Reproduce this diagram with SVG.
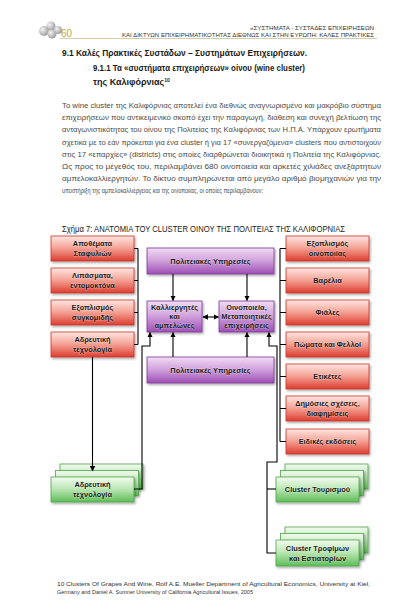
<svg xmlns="http://www.w3.org/2000/svg" width="420" height="611" viewBox="0 0 420 611">
<defs>
<linearGradient id="gRed" x1="0" y1="0" x2="0" y2="1"><stop offset="0" stop-color="#fde6e1"/><stop offset="0.45" stop-color="#f5a79a"/><stop offset="1" stop-color="#dc3e30"/></linearGradient>
<linearGradient id="gPur" x1="0" y1="0" x2="0" y2="1"><stop offset="0" stop-color="#f1dbf5"/><stop offset="0.45" stop-color="#d3a6de"/><stop offset="1" stop-color="#9d4fb5"/></linearGradient>
<linearGradient id="gGrn" x1="0" y1="0" x2="0" y2="1"><stop offset="0" stop-color="#f2fbef"/><stop offset="0.45" stop-color="#bfe8b8"/><stop offset="1" stop-color="#5dbd57"/></linearGradient>
<radialGradient id="gBall" cx="0.35" cy="0.35" r="0.7"><stop offset="0" stop-color="#f4f4f4"/><stop offset="1" stop-color="#9a9a9a"/></radialGradient>
<filter id="sh" x="-10%" y="-10%" width="125%" height="140%"><feDropShadow dx="1.2" dy="1.5" stdDeviation="0.8" flood-color="#000" flood-opacity="0.35"/></filter>
<marker id="ar" viewBox="0 0 10 10" refX="9" refY="5" markerWidth="5" markerHeight="5" orient="auto-start-reverse"><path d="M0,0 L10,5 L0,10 z" fill="#000"/></marker>
<style>
.r{fill:url(#gRed);stroke:#c8392c;stroke-width:0.8;filter:url(#sh)}
.p{fill:url(#gPur);stroke:#7d3b96;stroke-width:0.8;filter:url(#sh)}
.g{fill:url(#gGrn);stroke:#52a64c;stroke-width:0.8;filter:url(#sh)}
.bt{font-family:"Liberation Sans",Arial,sans-serif;font-weight:bold;font-size:7.4px;fill:#1c1c1c;text-anchor:middle;paint-order:stroke;stroke:#ffffff;stroke-opacity:0.35;stroke-width:1px}
.ln{fill:none;stroke:#000;stroke-width:1.1}
.ar{fill:none;stroke:#000;stroke-width:1.1;marker-end:url(#ar)}
.body{font-family:"Liberation Sans",Arial,sans-serif;font-size:8px;fill:#4a4a4a}
.hd{font-family:"Liberation Sans",Arial,sans-serif;font-weight:bold;font-size:9px;fill:#1a1a1a}
.top{font-family:"Liberation Sans",Arial,sans-serif;font-size:5.6px;fill:#333;text-anchor:end}
.fn{font-family:"Liberation Sans",Arial,sans-serif;font-size:5.4px;fill:#333}
</style>
</defs>
<rect width="420" height="611" fill="#fff"/>

<g id="header">
<circle cx="44" cy="31" r="5" fill="url(#gBall)"/>
<circle cx="51" cy="26" r="4.5" fill="url(#gBall)"/>
<circle cx="52" cy="34" r="4.5" fill="url(#gBall)"/>
<circle cx="58" cy="30" r="4" fill="url(#gBall)"/>
<text x="61" y="37" font-family="Liberation Sans,Arial,sans-serif" font-size="10" fill="#c9a43c">60</text>
<line x1="60" y1="38.5" x2="377" y2="38.5" stroke="#bcaa70" stroke-width="0.6"/>
<text class="top" x="374" y="30" textLength="124" lengthAdjust="spacingAndGlyphs">«ΣΥΣΤΗΜΑΤΑ - ΣΥΣΤΑΔΕΣ ΕΠΙΧΕΙΡΗΣΕΩΝ</text>
<text class="top" x="374" y="36.5" textLength="252" lengthAdjust="spacingAndGlyphs">ΚΑΙ ΔΙΚΤΥΩΝ ΕΠΙΧΕΙΡΗΜΑΤΙΚΟΤΗΤΑΣ ΔΙΕΘΝΩΣ ΚΑΙ ΣΤΗΝ ΕΥΡΩΠΗ: ΚΑΛΕΣ ΠΡΑΚΤΙΚΕΣ</text>
</g>

<g id="headings">
<text class="hd" x="62" y="56" textLength="245" lengthAdjust="spacingAndGlyphs">9.1 Καλές Πρακτικές Συστάδων – Συστημάτων Επιχειρήσεων.</text>
<text class="hd" x="93" y="71" textLength="212" lengthAdjust="spacingAndGlyphs">9.1.1 Τα «συστήματα επιχειρήσεων» οίνου (wine cluster)</text>
<text class="hd" x="93" y="85">της Καλιφόρνιας<tspan font-size="5" dy="-3.5">10</tspan></text>
</g>

<g id="paragraph">
<text class="body" x="62" y="108" textLength="319" lengthAdjust="spacingAndGlyphs">Το wine cluster της Καλιφόρνιας αποτελεί ένα διεθνώς αναγνωρισμένο και μακρόβιο σύστημα</text>
<text class="body" x="62" y="120.2" textLength="319" lengthAdjust="spacingAndGlyphs">επιχειρήσεων που αντικειμενικό σκοπό έχει την παραγωγή, διάθεση και συνεχή βελτίωση της</text>
<text class="body" x="62" y="132.4" textLength="319" lengthAdjust="spacingAndGlyphs">ανταγωνιστικότητας του οίνου της Πολιτείας της Καλιφόρνιας των Η.Π.Α. Υπάρχουν ερωτήματα</text>
<text class="body" x="62" y="144.6" textLength="319" lengthAdjust="spacingAndGlyphs">σχετικά με το εάν πρόκειται για ένα cluster ή για 17 «συνεργαζόμενα» clusters που αντιστοιχούν</text>
<text class="body" x="62" y="156.8" textLength="319" lengthAdjust="spacingAndGlyphs">στις 17 «επαρχίες» (districts) στις οποίες διαρθρώνεται διοικητικά η Πολιτεία της Καλιφόρνιας.</text>
<text class="body" x="62" y="169" textLength="319" lengthAdjust="spacingAndGlyphs">Ως προς το μέγεθός του, περιλαμβάνει 680 οινοποιεία και αρκετές χιλιάδες ανεξάρτητων</text>
<text class="body" x="62" y="181.2" textLength="319" lengthAdjust="spacingAndGlyphs">αμπελοκαλλιεργητών.  Το δίκτυο συμπληρώνεται από μεγάλο αριθμό βιομηχανιών για την</text>
<text class="body" x="62" y="193.4" textLength="201" lengthAdjust="spacingAndGlyphs">υποστήριξη της αμπελοκαλλιέργειας και της οινοποιίας, οι οποίες περιλαμβάνουν:</text>
</g>

<text id="fig-title" x="62" y="232" font-family="Liberation Sans,Arial,sans-serif" font-size="8.6" fill="#1a1a1a" textLength="283" lengthAdjust="spacingAndGlyphs">Σχήμα 7: ΑΝΑΤΟΜΙΑ ΤΟΥ CLUSTER ΟΙΝΟΥ ΤΗΣ ΠΟΛΙΤΕΙΑΣ ΤΗΣ ΚΑΛΙΦΟΡΝΙΑΣ</text>

<!-- left red boxes -->
<g id="n-apothemata"><rect class="r" x="51" y="236" width="83" height="25"/><text class="bt" x="92.5" y="246">Αποθέματα</text><text class="bt" x="92.5" y="256">Σταφυλιών</text></g>
<g id="n-lipasmata"><rect class="r" x="51" y="268" width="83" height="25"/><text class="bt" x="92.5" y="278">Λιπάσματα,</text><text class="bt" x="92.5" y="288">εντομοκτόνα</text></g>
<g id="n-exopl-sygk"><rect class="r" x="51" y="300" width="83" height="25"/><text class="bt" x="92.5" y="310">Εξοπλισμός</text><text class="bt" x="92.5" y="320">συγκομιδής</text></g>
<g id="n-adreft-red"><rect class="r" x="51" y="332" width="83" height="25"/><text class="bt" x="92.5" y="342">Αδρευτική</text><text class="bt" x="92.5" y="352">τεχνολογία</text></g>

<!-- purple boxes -->
<g id="n-polit-top"><rect class="p" x="147" y="248" width="127" height="26"/><text class="bt" x="210.5" y="263.5">Πολιτειακές Υπηρεσίες</text></g>
<g id="n-kallierg"><rect class="p" x="147" y="301" width="55" height="31"/><text class="bt" x="174.5" y="310">Καλλιεργητές</text><text class="bt" x="174.5" y="319">και</text><text class="bt" x="174.5" y="328">αμπελώνες</text></g>
<g id="n-oinopoieia"><rect class="p" x="219" y="301" width="55" height="31"/><text class="bt" x="246.5" y="310">Οινοποιεία,</text><text class="bt" x="246.5" y="319">Μεταποιητικές</text><text class="bt" x="246.5" y="328">επιχειρήσεις</text></g>
<g id="n-polit-bot"><rect class="p" x="147" y="357" width="127" height="26"/><text class="bt" x="210.5" y="372.5">Πολιτειακές Υπηρεσίες</text></g>

<!-- right red boxes -->
<g id="n-exopl-oin"><rect class="r" x="286" y="236" width="83" height="25"/><text class="bt" x="327.5" y="246">Εξοπλισμός</text><text class="bt" x="327.5" y="256">οινοποιίας</text></g>
<g id="n-varelia"><rect class="r" x="286" y="268" width="83" height="25"/><text class="bt" x="327.5" y="283">Βαρέλια</text></g>
<g id="n-fiales"><rect class="r" x="286" y="300" width="83" height="25"/><text class="bt" x="327.5" y="315">Φιάλες</text></g>
<g id="n-pomata"><rect class="r" x="286" y="332" width="83" height="25"/><text class="bt" x="327.5" y="347">Πώματα και Φελλοί</text></g>
<g id="n-etiketes"><rect class="r" x="286" y="364" width="83" height="25"/><text class="bt" x="327.5" y="379">Ετικέτες</text></g>
<g id="n-dimosies"><rect class="r" x="286" y="396" width="83" height="25"/><text class="bt" x="327.5" y="406">Δημόσιες σχέσεις,</text><text class="bt" x="327.5" y="416">διαφημίσεις</text></g>
<g id="n-eidikes"><rect class="r" x="286" y="429" width="83" height="25"/><text class="bt" x="327.5" y="444">Ειδικές εκδόσεις</text></g>

<!-- green stacked boxes -->
<g id="n-adreft-green"><rect class="g" x="60" y="464" width="83" height="25"/><rect class="g" x="55.5" y="470.5" width="83" height="25"/><rect class="g" x="51" y="477" width="83" height="25"/><text class="bt" x="92.5" y="487">Αδρευτική</text><text class="bt" x="92.5" y="497">τεχνολογία</text></g>
<g id="n-tourismos"><rect class="g" x="285" y="464" width="83" height="25"/><rect class="g" x="280.5" y="470.5" width="83" height="25"/><rect class="g" x="276" y="477" width="83" height="25"/><text class="bt" x="317.5" y="492">Cluster Τουρισμού</text></g>
<g id="n-trofima"><rect class="g" x="285" y="527" width="83" height="26"/><rect class="g" x="280.5" y="533.5" width="83" height="26"/><rect class="g" x="276" y="540" width="83" height="26"/><text class="bt" x="317.5" y="550.5">Cluster Τροφίμων</text><text class="bt" x="317.5" y="560.5">και Εστιατορίων</text></g>

<g id="connectors">
<path class="ln" d="M134,248.5 H138 M134,280.5 H138 M134,312.5 H138 M134,344.5 H138 M138,248.5 V344.5"/>
<path class="ln" d="M280,248.5 V441.5 M280,248.5 H286 M280,280.5 H286 M280,312.5 H286 M280,344.5 H286 M280,376.5 H286 M280,408.5 H286 M280,441.5 H286"/>
<path class="ar" d="M173,274 V300.5"/>
<path class="ar" d="M247,274 V300.5"/>
<path class="ar" d="M173,357 V332.5"/>
<path class="ar" d="M247,357 V332.5"/>
<path class="ar" d="M203,317 H218.5" marker-start="url(#ar)"/>
<path class="ar" d="M92.5,357 V471"/>
<path class="ar" d="M134,489 H142 V346 H150 V332.5"/>
<path class="ar" d="M276,553 H267 V462 H277 V346 H269 V332.5"/>
<path class="ln" d="M267,489 H276"/>
</g>

<g id="footnote">
<text class="fn" x="57" y="586" textLength="313" lengthAdjust="spacingAndGlyphs">10 Clusters Of Grapes And Wine, Rolf A.E. Mueller Department of Agricultural Economics, University at Kiel,</text>
<text class="fn" x="57" y="593.5" textLength="196" lengthAdjust="spacingAndGlyphs">Germany and Daniel A. Sumner University of California Agricultural Issues, 2005</text>
</g>
</svg>
